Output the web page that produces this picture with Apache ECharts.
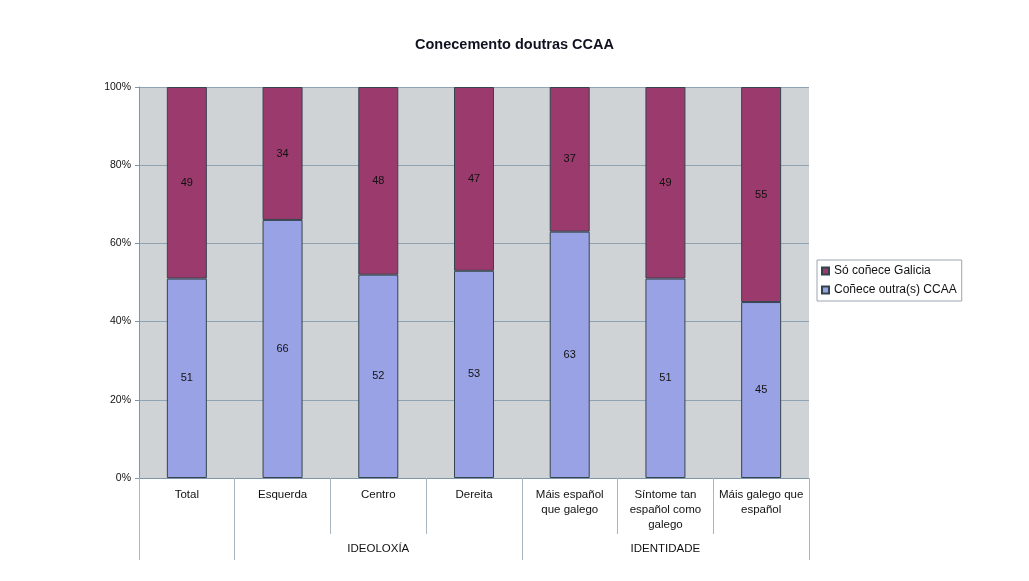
<!DOCTYPE html>
<html>
<head>
<meta charset="utf-8">
<script src="https://cdn.jsdelivr.net/npm/echarts@6/dist/echarts.min.js"></script>
<style>
html,body{margin:0;padding:0;background:#fff;}
#chart{width:1029px;height:581px;}
</style>
</head>
<body>
<div id="chart"></div>
<script>
const title = 'Conecemento doutras CCAA';
const categories = ['Total', 'Esquerda', 'Centro', 'Dereita', 'Máis español\nque galego', 'Síntome tan\nespañol como\ngalego', 'Máis galego que\nespañol'];
const groupLabels = ['', '', 'IDEOLOXÍA', '', '', 'IDENTIDADE', ''];
const groupStarts = [0, 1, 4];
const seriesNames = ['Só coñece Galicia', 'Coñece outra(s) CCAA'];
const soGalicia = [49, 34, 48, 47, 37, 49, 55];
const outrasCCAA = [51, 66, 52, 53, 63, 51, 45];

const chart = echarts.init(document.getElementById('chart'));
const font = 'Liberation Sans, Arial, sans-serif';
chart.setOption({
  backgroundColor: '#ffffff',
  animation: false,
  title: {
    text: title, left: 'center', top: 32,
    textStyle: {fontFamily: font, fontSize: 14.5, fontWeight: 'bold', color: '#111122'}
  },
  legend: {
    orient: 'vertical', left: 817, top: 260,
    data: seriesNames,
    itemWidth: 7, itemHeight: 7, itemGap: 7,
    padding: [5, 5, 5, 4],
    borderColor: '#9aa6b0', borderWidth: 1,
    icon: 'rect',
    textStyle: {fontFamily: font, fontSize: 12, color: '#111'}
  },
  grid: {left: 139, right: 220, top: 87, bottom: 103, containLabel: false,
         show: true, backgroundColor: '#d0d3d6', borderWidth: 0},
  xAxis: [{
    type: 'category', data: categories, position: 'bottom',
    axisLine: {show: true, lineStyle: {color: '#7f96a6', width: 1}},
    axisTick: {show: true, length: 56, lineStyle: {color: '#a8b6c0'}},
    axisLabel: {interval: 0, margin: 9, fontFamily: font, fontSize: 11.5, color: '#111', lineHeight: 15}
  }, {
    type: 'category', data: groupLabels, position: 'bottom',
    axisLine: {show: false},
    axisTick: {show: true, length: 82, interval: function (i) { return groupStarts.indexOf(i) >= 0; },
               lineStyle: {color: '#a8b6c0'}},
    axisLabel: {interval: 0, margin: 65, fontFamily: font, fontSize: 11.5, color: '#111'}
  }],
  yAxis: {
    type: 'value', min: 0, max: 100, interval: 20,
    axisLine: {show: true, lineStyle: {color: '#7f96a6'}},
    axisTick: {show: true, length: 4, lineStyle: {color: '#7f96a6'}},
    axisLabel: {formatter: '{value}%', fontFamily: font, fontSize: 10.5, color: '#111', margin: 8},
    splitLine: {show: true, lineStyle: {color: '#8fa3b3', width: 1}}
  },
  series: [{
    name: seriesNames[1], type: 'bar', stack: 'a', data: outrasCCAA, xAxisIndex: 0,
    barWidth: 40,
    itemStyle: {color: '#9aa2e6', borderColor: '#34444f', borderWidth: 1},
    label: {show: true, position: 'inside', fontFamily: font, fontSize: 11, color: '#111'}
  }, {
    name: seriesNames[0], type: 'bar', stack: 'a', data: soGalicia, xAxisIndex: 0,
    barWidth: 40,
    itemStyle: {color: '#9b3a6c', borderColor: '#34444f', borderWidth: 1},
    label: {show: true, position: 'inside', fontFamily: font, fontSize: 11, color: '#111'}
  }]
});
</script>
</body>
</html>
